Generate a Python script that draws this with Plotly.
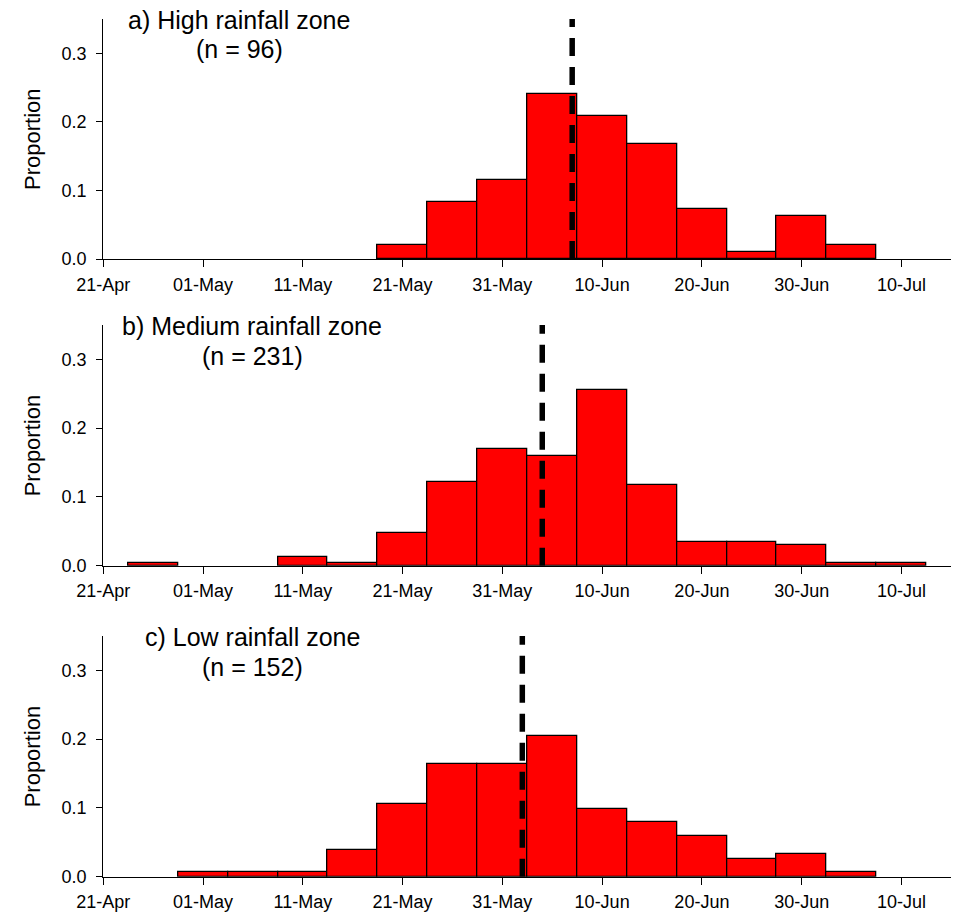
import plotly.graph_objects as go

# ---------------- data ----------------
panel_titles = ["a) High rainfall zone", "b) Medium rainfall zone", "c) Low rainfall zone"]
panel_n = ["(n = 96)", "(n = 231)", "(n = 152)"]

bins_a = ["2019-05-21", "2019-05-26", "2019-05-31", "2019-06-05", "2019-06-10",
          "2019-06-15", "2019-06-20", "2019-06-25", "2019-06-30", "2019-07-05"]
prop_a = [0.021, 0.083, 0.115, 0.240, 0.208, 0.167, 0.073, 0.010, 0.063, 0.021]

bins_b = ["2019-04-26", "2019-05-11", "2019-05-16", "2019-05-21", "2019-05-26",
          "2019-05-31", "2019-06-05", "2019-06-10", "2019-06-15", "2019-06-20",
          "2019-06-25", "2019-06-30", "2019-07-05", "2019-07-10"]
prop_b = [0.004, 0.013, 0.004, 0.048, 0.121, 0.169, 0.160, 0.255, 0.117, 0.035,
          0.035, 0.030, 0.004, 0.004]

bins_c = ["2019-05-01", "2019-05-06", "2019-05-11", "2019-05-16", "2019-05-21",
          "2019-05-26", "2019-05-31", "2019-06-05", "2019-06-10", "2019-06-15",
          "2019-06-20", "2019-06-25", "2019-06-30", "2019-07-05"]
prop_c = [0.007, 0.007, 0.007, 0.039, 0.105, 0.164, 0.164, 0.204, 0.099, 0.079,
          0.059, 0.026, 0.033, 0.007]

medians = ["2019-06-07", "2019-06-04", "2019-06-02"]

y_axis_max = 0.35
x_range = ["2019-04-21", "2019-07-15"]
y_tickvals = [0.0, 0.1, 0.2, 0.3]
y_ticktext = ["0.0", "0.1", "0.2", "0.3"]
bin_width_days = 5

# ---------------- layout helpers ----------------
W, H = 961, 914
FONT = "Liberation Sans, Arial, sans-serif"
DAY_MS = 86400000

# panel pixel geometry (top, bottom of y axis)
panels_px = [(19, 259), (325, 565.7), (636, 876.7)]
x_left_px, x_right_px = 103.3, 951.3

def py(px):
    return 1 - px / H

fig = go.Figure()
all_bins = [bins_a, bins_b, bins_c]
all_props = [prop_a, prop_b, prop_c]

for i in range(3):
    xa = "x" if i == 0 else f"x{i+1}"
    ya = "y" if i == 0 else f"y{i+1}"
    fig.add_trace(go.Bar(
        x=all_bins[i], y=all_props[i], width=bin_width_days * DAY_MS,
        marker=dict(color="#FF0000", line=dict(color="black", width=1.3)),
        xaxis=xa, yaxis=ya, showlegend=False,
    ))
    fig.add_trace(go.Scatter(
        x=[medians[i], medians[i]], y=[0, y_axis_max], mode="lines",
        line=dict(color="black", width=5.5, dash="18px,11px"),
        xaxis=xa, yaxis=ya, showlegend=False, cliponaxis=False,
    ))

    top, bot = panels_px[i]
    xkey = "xaxis" if i == 0 else f"xaxis{i+1}"
    ykey = "yaxis" if i == 0 else f"yaxis{i+1}"
    fig.layout[xkey] = dict(
        type="date", range=x_range, domain=[x_left_px / W, x_right_px / W],
        anchor=ya, tick0="2019-04-21", dtick=10 * DAY_MS, tickformat="%d-%b",
        showline=True, linecolor="black", linewidth=1.2,
        ticks="outside", ticklen=7, tickwidth=1, tickcolor="black",
        showgrid=False, zeroline=False, automargin=False,
        ticklabelstandoff=2,
        tickfont=dict(family=FONT, size=18, color="black"),
    )
    fig.layout[ykey] = dict(
        range=[0, y_axis_max], domain=[py(bot), py(top)], anchor=xa,
        tickvals=y_tickvals, ticktext=y_ticktext,
        showline=True, linecolor="black", linewidth=1.2,
        ticks="outside", ticklen=6, tickwidth=1, tickcolor="black",
        showgrid=False, zeroline=False, automargin=False,
        ticklabelstandoff=6,
        tickfont=dict(family=FONT, size=18, color="black"),
    )

# annotations: panel titles, n, y-axis titles
title_centers_x = [239, 252, 252]
title_row1_y = [19.5, 325.8, 637]
annotations = []
for i in range(3):
    annotations.append(dict(
        text=panel_titles[i], xref="paper", yref="paper",
        x=title_centers_x[i] / W, y=py(title_row1_y[i]),
        xanchor="center", yanchor="middle", showarrow=False,
        font=dict(family=FONT, size=25, color="black"),
    ))
    annotations.append(dict(
        text=panel_n[i], xref="paper", yref="paper",
        x=title_centers_x[i] / W, y=py(title_row1_y[i] + 30),
        xanchor="center", yanchor="middle", showarrow=False,
        font=dict(family=FONT, size=25, color="black"),
    ))
    top, bot = panels_px[i]
    annotations.append(dict(
        text="Proportion", xref="paper", yref="paper",
        x=32 / W, y=py((top + bot) / 2), textangle=-90,
        xanchor="center", yanchor="middle", showarrow=False,
        font=dict(family=FONT, size=22, color="black"),
    ))

fig.update_layout(
    template="none",
    width=W, height=H, margin=dict(l=0, r=0, t=0, b=0, pad=0),
    paper_bgcolor="white", plot_bgcolor="white",
    bargap=0, annotations=annotations, showlegend=False,
    font=dict(family=FONT, color="black"),
)

fig.write_html("out.html")
